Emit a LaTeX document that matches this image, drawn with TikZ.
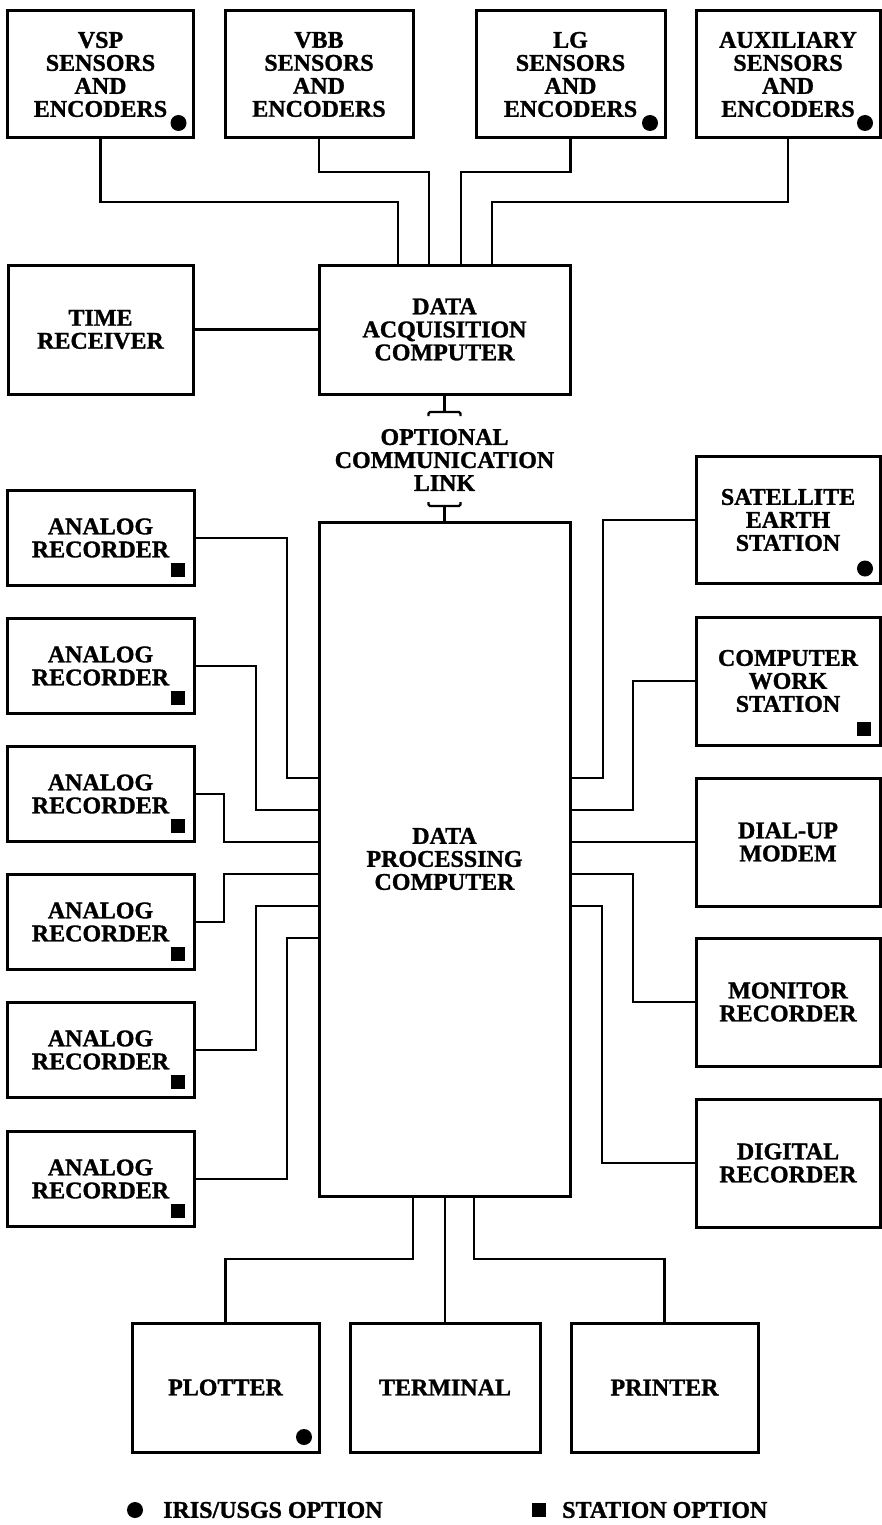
\documentclass[tikz,border=0pt]{standalone}
\usepackage{fontspec}
\setmainfont{Liberation Serif}[BoldFeatures={FakeBold=1.2}]
\newcommand\dotmark[1]{\fill ([shift={(-15pt,15pt)}]#1.south east) circle (8pt);}
\newcommand\sqmark[1]{\fill ([shift={(-23pt,9pt)}]#1.south east) rectangle ++(14pt,14pt);}
\begin{document}
\begin{tikzpicture}[x=1pt,y=-1pt,
  box/.style={draw, line width=3pt, inner sep=0pt, outer sep=0pt, align=center,
              font=\bfseries\fontsize{24}{23}\selectfont},
  conn/.style={line width=2.4pt},
  lbl/.style={inner sep=0pt, align=center, font=\bfseries\fontsize{24}{23}\selectfont}]
\useasboundingbox (0,0) rectangle (882,1525);

% top row
\node[box, minimum width=186pt, minimum height=127pt] (vsp) at (100.5,74.5) {VSP\\SENSORS\\AND\\ENCODERS};
\node[box, minimum width=188pt, minimum height=127pt] (vbb) at (319,74.5) {VBB\\SENSORS\\AND\\ENCODERS};
\node[box, minimum width=189pt, minimum height=127pt] (lg) at (570.5,74.5) {LG\\SENSORS\\AND\\ENCODERS};
\node[box, minimum width=184pt, minimum height=127pt] (aux) at (788,74.5) {AUXILIARY\\SENSORS\\AND\\ENCODERS};

% second row
\node[box, minimum width=185pt, minimum height=129pt] (time) at (100.5,329.5) {TIME\\RECEIVER};
\node[box, minimum width=251pt, minimum height=129pt] (dac) at (444.5,329.5) {DATA\\ACQUISITION\\COMPUTER};

% link label
\node[lbl] (link) at (444.5,460) {OPTIONAL\\COMMUNICATION\\LINK};

% processing computer
\node[box, minimum width=251pt, minimum height=674pt] (dpc) at (444.5,859) {DATA\\PROCESSING\\COMPUTER};

% analog recorders
\foreach \i/\y in {1/538,2/666,3/794,4/922,5/1050,6/1179}{
  \node[box, minimum width=187pt, minimum height=95pt] (a\i) at (100.5,\y) {ANALOG\\RECORDER};
}

% right column
\node[box, minimum width=184pt, minimum height=127pt] (sat) at (788,520) {SATELLITE\\EARTH\\STATION};
\node[box, minimum width=184pt, minimum height=128pt] (cws) at (788,681) {COMPUTER\\WORK\\STATION};
\node[box, minimum width=184pt, minimum height=128pt] (dial) at (788,842) {DIAL-UP\\MODEM};
\node[box, minimum width=184pt, minimum height=128pt] (mon) at (788,1002) {MONITOR\\RECORDER};
\node[box, minimum width=184pt, minimum height=128pt] (dig) at (788,1163) {DIGITAL\\RECORDER};

% bottom row
\node[box, minimum width=187pt, minimum height=129pt] (plot) at (225.5,1387.5) {PLOTTER};
\node[box, minimum width=190pt, minimum height=129pt] (term) at (445,1387.5) {TERMINAL};
\node[box, minimum width=187pt, minimum height=129pt] (prin) at (664.5,1387.5) {PRINTER};

% top connectors
\coordinate (b1) at (398,202);
\coordinate (b2) at (429,172);
\coordinate (b3) at (461,172);
\coordinate (b4) at (492,202);
\draw[conn] (vsp.south) |- (b1) -- (b1 |- dac.north);
\draw[conn] (vbb.south) |- (b2) -- (b2 |- dac.north);
\draw[conn] (lg.south) |- (b3) -- (b3 |- dac.north);
\draw[conn] (aux.south) |- (b4) -- (b4 |- dac.north);
\draw[conn] (time.east) -- (dac.west);

% communication link
\draw[conn] (dac.south) -- ++(0,18) coordinate (lt);
\draw[conn, rounded corners=1.5pt] ([shift={(-16pt,-4pt)}]lt) -- ([xshift=-16pt]lt) -- ([xshift=16pt]lt) -- ([shift={(16pt,-4pt)}]lt);
\draw[conn] (dpc.north) -- ++(0,-16) coordinate (lb);
\draw[conn, rounded corners=1.5pt] ([shift={(-16pt,4pt)}]lb) -- ([xshift=-16pt]lb) -- ([xshift=16pt]lb) -- ([shift={(16pt,4pt)}]lb);

% left connectors
\coordinate (l1) at (287,778);
\coordinate (l2) at (256,810);
\coordinate (l3) at (224,842);
\coordinate (l4) at (224,874);
\coordinate (l5) at (256,906);
\coordinate (l6) at (287,938);
\foreach \i in {1,...,6}{
  \draw[conn] (a\i.east) -| (l\i) -- (l\i -| dpc.west);
}

% right connectors
\coordinate (r1) at (603,778);
\coordinate (r2) at (633,810);
\coordinate (r4) at (633,874);
\coordinate (r5) at (602,906);
\draw[conn] (sat.west) -| (r1) -- (r1 -| dpc.east);
\draw[conn] (cws.west) -| (r2) -- (r2 -| dpc.east);
\draw[conn] (dial.west) -- (dial.west -| dpc.east);
\draw[conn] (mon.west) -| (r4) -- (r4 -| dpc.east);
\draw[conn] (dig.west) -| (r5) -- (r5 -| dpc.east);

% bottom connectors
\coordinate (p1) at (413,1259);
\coordinate (p3) at (474,1259);
\draw[conn] (p1 |- dpc.south) -- (p1) -| (plot.north);
\draw[conn] (dpc.south -| term.north) -- (term.north);
\draw[conn] (p3 |- dpc.south) -- (p3) -| (prin.north);

% option marks
\dotmark{vsp}
\dotmark{lg}
\dotmark{aux}
\dotmark{sat}
\dotmark{plot}
\sqmark{cws}
\foreach \i in {1,...,6}{\sqmark{a\i}}

% legend
\node[lbl, anchor=west] (leg1) at (163,1510) {IRIS/USGS OPTION};
\fill ([xshift=-28pt]leg1.west) circle (8pt);
\node[lbl, anchor=west] (leg2) at (562,1510) {STATION OPTION};
\fill ([shift={(-30.5pt,-7pt)}]leg2.west) rectangle ++(14pt,14pt);
\end{tikzpicture}
\end{document}
